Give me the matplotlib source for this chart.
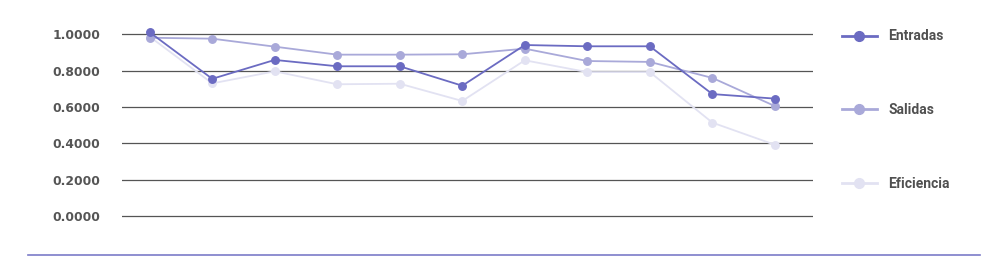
import matplotlib.pyplot as plt
from matplotlib.lines import Line2D

plt.switch_backend('Agg')

# values (11 periods, no x labels shown)
periods = list(range(11))
entradas = [1.011, 0.755, 0.859, 0.824, 0.824, 0.717, 0.941, 0.934, 0.934, 0.671, 0.646]
salidas = [0.981, 0.976, 0.932, 0.888, 0.888, 0.890, 0.921, 0.853, 0.848, 0.760, 0.605]
eficiencia = [0.987, 0.730, 0.796, 0.725, 0.728, 0.633, 0.857, 0.792, 0.792, 0.514, 0.392]
y_ticks = [0.0, 0.2, 0.4, 0.6, 0.8, 1.0]

series = [
    ("Entradas", entradas, "#6b6bc2", 3),
    ("Salidas", salidas, "#a9a9d9", 2),
    ("Eficiencia", eficiencia, "#e2e2f2", 1),
]

W, H = 995, 263
unit = 181.7  # px per 1.0 on the y axis
fig = plt.figure(figsize=(W / 100, H / 100), dpi=100)
ax = fig.add_axes([121.7 / W, 1 - (216 + 0.05 * unit) / H, (813 - 121.7) / W, 1.1 * unit / H])

handles = []
for name, vals, color, z in series:
    ln, = ax.plot(periods, vals, color=color, lw=1.3, marker='o', markersize=5.4,
                  zorder=z, clip_on=False, label=name)
    handles.append(ln)

ax.set_xlim(-0.448, 10.61)
ax.set_ylim(-0.05, 1.05)
ax.set_yticks(y_ticks)
ax.set_yticklabels([f"{v:.4f}" for v in y_ticks])
ax.grid(axis='y', color='#555555', lw=0.9, zorder=0)
ax.set_axisbelow(True)
ax.set_xticks([])
ax.tick_params(axis='y', length=0, pad=15.5, labelsize=8.8, labelcolor='#555555')
for lbl in ax.get_yticklabels():
    lbl.set_fontweight('bold')
for s in ax.spines.values():
    s.set_visible(False)

leg = fig.legend(handles=handles, loc='upper left', bbox_to_anchor=(842 / W, 1 - 29.5 / H),
                 frameon=False, borderpad=0, borderaxespad=0, handlelength=2.5,
                 handletextpad=0.85, labelspacing=4.3, markerscale=1.3,
                 prop={'family': 'Roboto', 'weight': 'bold', 'size': 10}, labelcolor='#505050')
for h in leg.get_lines():
    h.set_linewidth(2.0)

# thin rule under the chart
fig.add_artist(Line2D([28 / W, 980 / W], [1 - 255 / H, 1 - 255 / H],
                      color='#7b7bc8', lw=1.2))

fig.savefig('out.png', dpi=100)
